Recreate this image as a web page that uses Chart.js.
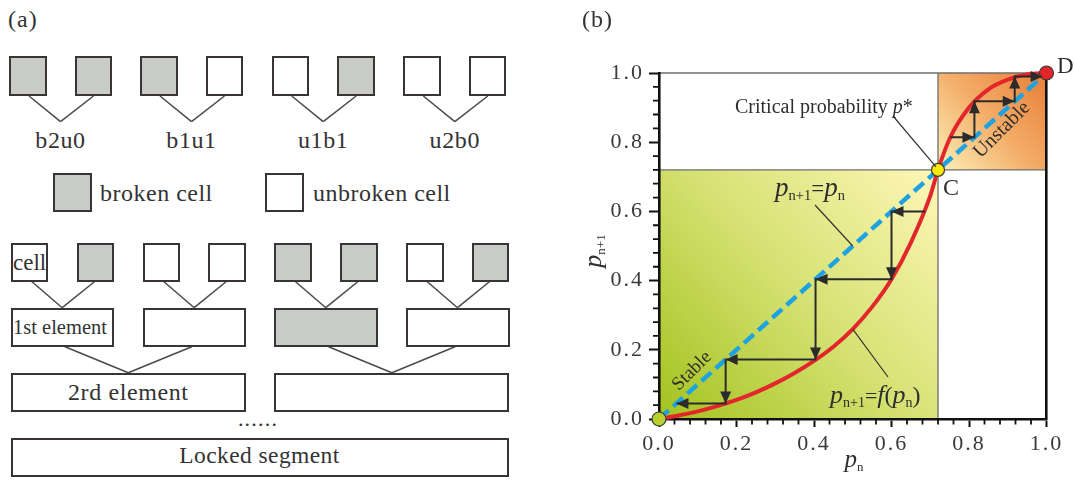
<!DOCTYPE html>
<html>
<head>
<meta charset="utf-8">
<script src="https://cdn.jsdelivr.net/npm/chart.js@4.4.1/dist/chart.umd.min.js"></script>
<style>
  html, body { margin: 0; padding: 0; background: #fff; }
  #page { position: relative; width: 1075px; height: 482px; overflow: hidden;
          font-family: 'Liberation Serif', 'Times New Roman', serif; color: #333; }
  .box { position: absolute; box-sizing: border-box; border: 2.6px solid #3a3434; background: #fff; }
  .box.broken { background: #c9cbc9; }
  .lbl { position: absolute; white-space: nowrap; line-height: 1; }
  #links { position: absolute; left: 0; top: 0; }
  #wrap { position: absolute; left: 560px; top: 0; width: 515px; height: 482px; }
</style>
</head>
<body>
<div id="page">
  <svg id="links" width="540" height="482"></svg>
  <div id="wrap"><canvas id="c" width="515" height="482"></canvas></div>
</div>
<script>
// ---------- panel (a): cell / element hierarchy ----------
const pairStates  = [[1, 1], [1, 0], [0, 1], [0, 0]];      // 1 = broken cell
const pairLabels  = ['b2u0', 'b1u1', 'u1b1', 'u2b0'];
const cellRow     = [0, 1, 0, 0, 1, 1, 0, 1];
const elementRow  = [0, 0, 1, 0];
const legendItems = [['broken cell', 1], ['unbroken cell', 0]];

// ---------- panel (b): renormalisation map p(n+1) = f(p(n)) ----------
const pStar   = 0.72;                       // critical probability C
const curveP  = [0, 0.05, 0.1, 0.15, 0.2, 0.25, 0.3, 0.35, 0.4, 0.45, 0.5, 0.55, 0.6,
                 0.65, 0.7, 0.72, 0.75, 0.8, 0.85, 0.9, 0.95, 1.0];
const curveF  = [0, 0.01, 0.022, 0.037, 0.055, 0.077, 0.103, 0.133, 0.168, 0.209, 0.26, 0.324, 0.404,
                 0.51, 0.645, 0.72, 0.81, 0.9, 0.953, 0.981, 0.996, 1.0];
const diagonalEnd = 0.98;
const stableSeq   = [0.687, 0.6, 0.404, 0.172, 0.045];     // successive iterates below p*
const unstableSeq = [0.752, 0.814, 0.918, 0.99];           // successive iterates above p*
const majorTicks  = [0, 0.2, 0.4, 0.6, 0.8, 1.0];
const minorStep   = 0.04;

const SERIF = "'Liberation Serif', 'Times New Roman', serif";
const IT = s => `italic ${s}px ${SERIF}`;
const RG = s => `${s}px ${SERIF}`;

// ----- build panel (a) -----
const page = document.getElementById('page');
const svg = document.getElementById('links');

function box(x, y, w, h, broken) {
  const d = document.createElement('div');
  d.className = 'box' + (broken ? ' broken' : '');
  Object.assign(d.style, { left: x + 'px', top: y + 'px', width: w + 'px', height: h + 'px' });
  page.appendChild(d);
}
function label(text, x, baseline, size, align, spacing, style) {
  const d = document.createElement('div');
  d.className = 'lbl';
  d.textContent = text;
  d.style.fontSize = size + 'px';
  d.style.letterSpacing = (spacing || 0) + 'px';
  if (style) d.style.fontStyle = style;
  d.style.top = (baseline - 0.8375 * size) + 'px';
  page.appendChild(d);
  const w = d.getBoundingClientRect().width;
  d.style.left = (align === 'center' ? x - w / 2 : x) + 'px';
}
function link(x1, y1, x2, y2) {
  const l = document.createElementNS('http://www.w3.org/2000/svg', 'line');
  l.setAttribute('x1', x1); l.setAttribute('y1', y1);
  l.setAttribute('x2', x2); l.setAttribute('y2', y2);
  l.setAttribute('stroke', '#4a4a4a'); l.setAttribute('stroke-width', '1.5');
  svg.appendChild(l);
}

label('(a)', 8, 27, 24, 'left', 1);
label('(b)', 582, 27, 24, 'left', 1);

// pair types
const pairLefts = [9, 140, 271.7, 403.3];
pairStates.forEach((st, i) => {
  const x0 = pairLefts[i], x1 = x0 + 65.5;
  box(x0, 56, 37.5, 40, st[0]);
  box(x1, 56, 37.5, 40, st[1]);
  const mid = (x0 + x1 + 37.5) / 2;
  link(x0 + 20, 96, mid, 121.7);
  link(x1 + 19, 96, mid, 121.7);
  label(pairLabels[i], mid, 148.3, 24, 'center', 0.6);
});

// legend
box(53.3, 173.3, 38.5, 39, legendItems[0][1]);
label(legendItems[0][0], 100, 201.5, 24, 'left', 0.5);
box(265, 173.3, 39, 39, legendItems[1][1]);
label(legendItems[1][0], 313, 201.5, 24, 'left', 0.5);

// cells -> 1st elements -> 2nd elements -> locked segment
const cellLefts = [10.7, 76.7, 142.7, 208.3, 274.3, 340, 406, 471.7];
cellRow.forEach((b, i) => box(cellLefts[i], 242.7, 37.5, 39.5, b));
label('cell', 13, 270, 23, 'left', 0);

const elLefts = [10.7, 142.7, 274.3, 406];
elementRow.forEach((b, i) => {
  const x0 = elLefts[i];
  box(x0, 307.7, 103.5, 39.5, b);
  const mid = x0 + 51.5;
  link(cellLefts[2 * i] + 21, 281.5, mid, 307.7);
  link(cellLefts[2 * i + 1] + 18, 281.5, mid, 307.7);
});
label('1st element', 13, 334.5, 20.5, 'left', 0);

const segLefts = [10.7, 274.3];
segLefts.forEach((x0, k) => {
  box(x0, 372.7, 235.2, 39.5, 0);
  const mid = x0 + 117.6;
  link(elLefts[2 * k] + 54.3, 346.7, mid, 372.7);
  link(elLefts[2 * k + 1] + 49, 346.7, mid, 372.7);
});
label('2rd element', 128.3, 400, 24, 'center', 0.6);
label('......', 258, 426, 22, 'center', 1.2);
box(10.7, 438.3, 498.5, 39, 0);
label('Locked segment', 259.5, 464, 23.5, 'center', 0.4);

// ----- panel (b) chart -----
function cobweb(seq) {
  const pts = [{ x: seq[0], y: seq[1] }];
  for (let i = 1; i < seq.length; i++) {
    pts.push({ x: seq[i], y: seq[i] });
    if (i + 1 < seq.length) pts.push({ x: seq[i], y: seq[i + 1] });
  }
  return pts;
}

function rich(ctx, parts, x, y, align) {
  let w = 0;
  parts.forEach(p => { ctx.font = p[1]; w += ctx.measureText(p[0]).width + (p[3] || 0); });
  let cx = align === 'center' ? x - w / 2 : x;
  parts.forEach(p => {
    ctx.font = p[1];
    ctx.fillText(p[0], cx, y + (p[2] || 0));
    cx += ctx.measureText(p[0]).width + (p[3] || 0);
  });
}

function arrowHead(ctx, x1, y1, x2, y2) {
  const a = Math.atan2(y2 - y1, x2 - x1), L = 12, H = 5.5;
  ctx.beginPath();
  ctx.moveTo(x2, y2);
  ctx.lineTo(x2 - L * Math.cos(a) + H * Math.sin(a), y2 - L * Math.sin(a) - H * Math.cos(a));
  ctx.lineTo(x2 - L * Math.cos(a) - H * Math.sin(a), y2 - L * Math.sin(a) + H * Math.cos(a));
  ctx.closePath();
  ctx.fill();
}

const regionsPlugin = {
  id: 'regions',
  beforeDraw(chart) {
    const { ctx, scales: { x, y } } = chart;
    const X = v => x.getPixelForValue(v), Y = v => y.getPixelForValue(v);
    ctx.save();
    // stable basin
    let g = ctx.createLinearGradient(X(0), Y(0), X(pStar), Y(pStar));
    g.addColorStop(0, '#a3c21e');
    g.addColorStop(0.5, '#d5e172');
    g.addColorStop(1, '#fff7b8');
    ctx.fillStyle = g;
    ctx.fillRect(X(0), Y(pStar), X(pStar) - X(0), Y(0) - Y(pStar));
    // unstable basin
    g = ctx.createLinearGradient(X(pStar), Y(pStar), X(1), Y(1));
    g.addColorStop(0, '#fdf0b8');
    g.addColorStop(0.5, '#f3ad68');
    g.addColorStop(1, '#e87e38');
    ctx.fillStyle = g;
    ctx.fillRect(X(pStar), Y(1), X(1) - X(pStar), Y(pStar) - Y(1));
    // partition lines
    ctx.strokeStyle = '#6e6e6e';
    ctx.lineWidth = 1.3;
    ctx.beginPath();
    ctx.moveTo(X(0), Y(1)); ctx.lineTo(X(1), Y(1));
    ctx.moveTo(X(0), Y(pStar)); ctx.lineTo(X(1), Y(pStar));
    ctx.moveTo(X(pStar), Y(0)); ctx.lineTo(X(pStar), Y(1));
    ctx.stroke();
    ctx.restore();
    ctx.letterSpacing = '2px';   // tick numerals are set a little apart
  },
  beforeDatasetsDraw(chart) {
    const { ctx, scales: { x, y } } = chart;
    ctx.letterSpacing = '0px';
    // minor ticks
    ctx.save();
    ctx.strokeStyle = '#111';
    ctx.lineWidth = 1.8;
    ctx.beginPath();
    for (let k = 0; k * minorStep <= 1.0001; k++) {
      const v = +(k * minorStep).toFixed(2);
      if (majorTicks.some(m => Math.abs(m - v) < 1e-6)) continue;
      const px = x.getPixelForValue(v), py = y.getPixelForValue(v);
      ctx.moveTo(px, chart.chartArea.bottom); ctx.lineTo(px, chart.chartArea.bottom + 5.5);
      ctx.moveTo(chart.chartArea.left, py); ctx.lineTo(chart.chartArea.left - 6, py);
    }
    ctx.stroke();
    ctx.restore();
  },
  afterDatasetsDraw(chart) {
    const { ctx } = chart;
    ctx.save();
    ctx.fillStyle = '#2b2b2b';
    [1, 2].forEach(i => {
      const pts = chart.getDatasetMeta(i).data;
      for (let j = 1; j < pts.length; j++) arrowHead(ctx, pts[j - 1].x, pts[j - 1].y, pts[j].x, pts[j].y);
    });
    ctx.restore();
  },
  afterDraw(chart) {
    const { ctx, scales: { x, y } } = chart;
    const X = v => x.getPixelForValue(v), Y = v => y.getPixelForValue(v);
    const off = 560;
    ctx.save();
    ctx.letterSpacing = '0px';
    ctx.fillStyle = '#2e2e2e';
    ctx.textBaseline = 'alphabetic';
    ctx.textAlign = 'left';

    // axis titles
    rich(ctx, [['p', IT(25)], ['n', RG(13), 4]], 852 - off + 2, 467, 'center');
    ctx.save();
    ctx.translate(601 - off, 251);
    ctx.rotate(-Math.PI / 2);
    rich(ctx, [['p', IT(26)], ['n+1', RG(13), 4]], 0, 0, 'center');
    ctx.restore();

    // leader lines
    ctx.strokeStyle = '#333';
    ctx.lineWidth = 1.2;
    ctx.beginPath();
    ctx.moveTo(893 - off, 116); ctx.lineTo(X(pStar) - 2, Y(pStar) - 3);
    ctx.moveTo(815 - off, 205); ctx.lineTo(X(0.5), Y(0.5));
    ctx.moveTo(888 - off, 377); ctx.lineTo(X(0.5), Y(0.26));
    ctx.stroke();

    // labels
    rich(ctx, [['Critical probability ', RG(20)], ['p', IT(20)], ['*', RG(20)]], 735 - off, 113, 'left');
    ctx.font = RG(24); ctx.fillText('C', 943 - off, 195);
    ctx.font = RG(23); ctx.fillText('D', 1057 - off, 73);
    rich(ctx, [['p', IT(27)], ['n+1', RG(14.5), 4], ['=', RG(23)], ['p', IT(27)], ['n', RG(14.5), 4]], 775 - off, 196, 'left');
    rich(ctx, [['p', IT(26)], ['n+1', RG(14), 4], ['=', RG(22)], ['f', IT(26)], ['(', RG(24)],
               ['p', IT(26)], ['n', RG(14), 4], [')', RG(24)]], 830 - off, 403, 'left');

    ctx.textAlign = 'center';
    ctx.textBaseline = 'middle';
    ctx.save();
    ctx.translate(692 - off, 371);
    ctx.rotate(-Math.PI / 4);
    ctx.font = RG(19);
    ctx.fillText('Stable', 0, 0);
    ctx.restore();
    ctx.save();
    ctx.translate(1002 - off, 130);
    ctx.rotate(-Math.PI / 4);
    ctx.font = RG(20);
    ctx.fillText('Unstable', 0, 0);
    ctx.restore();
    ctx.restore();
  }
};

const tickFont = { family: SERIF, size: 22 };
new Chart(document.getElementById('c'), {
  type: 'scatter',
  data: {
    datasets: [
      { label: 'fixed points', data: [{ x: 0, y: 0 }, { x: pStar, y: pStar }, { x: 1, y: 1 }],
        pointRadius: [7, 6.5, 7], pointBackgroundColor: ['#b8cf2f', '#f6ea00', '#e3262b'],
        pointBorderColor: '#3b3b3b', pointBorderWidth: 1.2, showLine: false, clip: false, order: 0 },
      { label: 'stable iteration', data: cobweb(stableSeq), showLine: true, borderColor: '#2b2b2b',
        borderWidth: 2, pointRadius: 0, clip: false, order: 1 },
      { label: 'unstable iteration', data: cobweb(unstableSeq), showLine: true, borderColor: '#2b2b2b',
        borderWidth: 2, pointRadius: 0, clip: false, order: 1 },
      { label: 'f(p)', data: curveP.map((p, i) => ({ x: p, y: curveF[i] })), showLine: true,
        borderColor: '#e3262b', borderWidth: 4, pointRadius: 0, cubicInterpolationMode: 'monotone',
        clip: 4, order: 2 },
      { label: 'identity', data: [{ x: 0, y: 0 }, { x: diagonalEnd, y: diagonalEnd }], showLine: true,
        borderColor: '#1ea3e0', borderWidth: 4.5, borderDash: [13, 6], pointRadius: 0, order: 3 }
    ]
  },
  options: {
    responsive: false,
    animation: false,
    events: [],
    plugins: { legend: { display: false }, tooltip: { enabled: false } },
    layout: { padding: { left: 0, right: 28.5, top: 73, bottom: 0 } },
    scales: {
      x: {
        type: 'linear', position: 'bottom', min: 0, max: 1,
        afterFit(s) { s.height = 63; },
        afterBuildTicks(s) { s.ticks = majorTicks.map(v => ({ value: v })); },
        ticks: { callback: v => v.toFixed(1), font: tickFont, color: '#3a3a3a', padding: 4,
                 maxRotation: 0, autoSkip: false },
        grid: { drawOnChartArea: false, drawTicks: true, tickLength: 8, tickWidth: 2, tickColor: '#111' },
        border: { display: true, color: '#111', width: 2.6 }
      },
      y: {
        type: 'linear', position: 'left', min: 0, max: 1,
        afterFit(s) { s.width = 99; },
        afterBuildTicks(s) { s.ticks = majorTicks.map(v => ({ value: v })); },
        ticks: { callback: v => v.toFixed(1), font: tickFont, color: '#3a3a3a', padding: 5, autoSkip: false },
        grid: { drawOnChartArea: false, drawTicks: true, tickLength: 10, tickWidth: 2, tickColor: '#111' },
        border: { display: true, color: '#111', width: 2.6 }
      },
      y2: {
        type: 'linear', position: 'right', min: 0, max: 1,
        afterFit(s) { s.width = 0; },
        ticks: { display: false },
        grid: { drawOnChartArea: false, drawTicks: false, color: 'rgba(0,0,0,0)' },
        border: { display: true, color: '#111', width: 2.6 }
      }
    }
  },
  plugins: [regionsPlugin]
});
</script>
</body>
</html>
